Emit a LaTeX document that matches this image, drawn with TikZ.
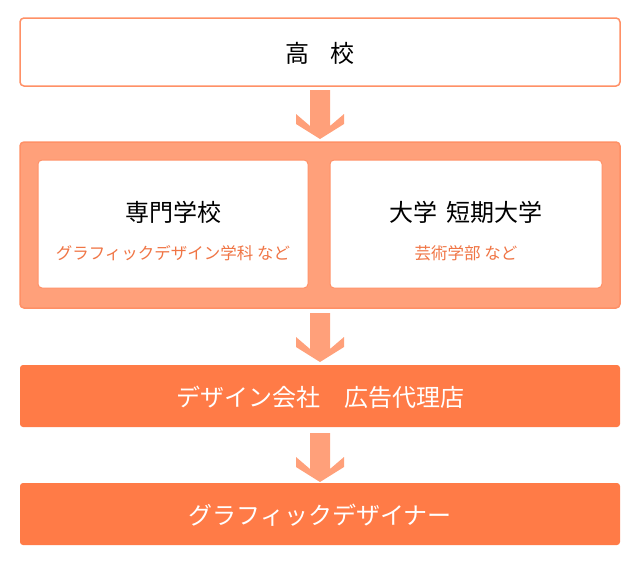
\documentclass[tikz,border=0pt]{standalone}
\usepackage{fontspec}
\setmainfont{Noto Sans CJK JP}
\begin{document}
\begin{tikzpicture}[x=1pt,y=-1pt,
  box/.style={rounded corners=4pt,line width=1.5pt},
  title/.style={font=\fontsize{24}{28}\selectfont},
  sub/.style={font=\fontsize{16.5}{20}\selectfont,text=subc}]
\definecolor{lightc}{HTML}{FFA07A}
\definecolor{darkc}{HTML}{FF7B47}
\definecolor{subc}{HTML}{F07545}
\definecolor{borderc}{HTML}{FF9066}
\useasboundingbox (0,0) rectangle (640,570);
\tikzset{arrowdown/.pic={\fill[lightc] (-10,0)--(10,0)--(10,36)--(24,24)--(24,34)--(0,49)--(-24,34)--(-24,24)--(-10,36)--cycle;}}
% top box
\draw[box,draw=borderc,fill=white] (20,18) rectangle (620,86);
\node[title] (hs) at (320,53) {高\hspace{0.9em}校};
\pic at (320,90) {arrowdown};
% big box
\draw[box,draw=borderc,fill=lightc] (20,142) rectangle (620,308);
\draw[box,draw=borderc,line width=1pt,fill=white] (38,160) rectangle (308,288);
\draw[box,draw=borderc,line width=1pt,fill=white] (330,160) rectangle (602,288);
\node[title] (sm) at (173,212) {専門学校};
\node[sub] (smsub) at (173,253) {グラフィックデザイン学科 など};
\node[title] (dg) at (466,212) {大学\hspace{0.35em}短期大学};
\node[sub] (dgsub) at (466,253) {芸術学部 など};
\pic at (320,313) {arrowdown};
% box3
\fill[darkc,rounded corners=3pt] (20,365) rectangle (620,427);
\node[title,text=white] (co) at (320,397) {デザイン会社\hspace{1em}広告代理店};
\pic at (320,433) {arrowdown};
\fill[darkc,rounded corners=3pt] (20,483) rectangle (620,545);
\node[title,text=white] (gd) at (320,515) {グラフィックデザイナー};
\end{tikzpicture}
\end{document}
